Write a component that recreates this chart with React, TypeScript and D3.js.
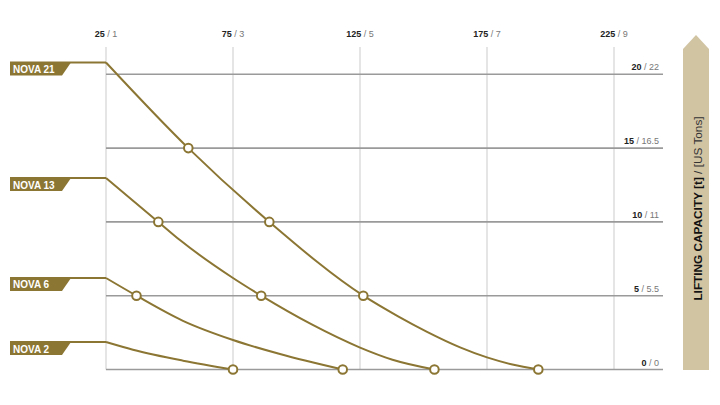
import React from "react";
import * as d3 from "d3";

const xTicks = [25, 75, 125, 175, 225];
const xTickAlt = ["1", "3", "5", "7", "9"];
const yTicks = [0, 5, 10, 15, 20];
const yTickAlt = ["0", "5.5", "11", "16.5", "22"];

const models = ["NOVA 21", "NOVA 13", "NOVA 6", "NOVA 2"];

const nova21X = [25, 57.4, 89.3, 126.3, 140, 151.4, 164.4, 175.0, 185, 195.2];
const nova21Y = [20.8, 15, 10, 5, 3.6, 2.55, 1.5, 0.82, 0.34, 0];
const nova21Marks = [1, 2, 3, 9];

const nova13X = [25, 45.6, 54.1, 75, 86.1, 106, 124.8, 137.8, 154.3];
const nova13Y = [12.97, 10, 8.77, 6.2, 5, 3.05, 1.5, 0.66, 0];
const nova13Marks = [1, 4, 8];

const nova6X = [25, 37.0, 55.3, 75, 93.5, 118.2];
const nova6Y = [6.2, 5, 3.3, 2.0, 1.05, 0];
const nova6Marks = [1, 5];

const nova2X = [25, 35.6, 55.3, 75];
const nova2Y = [1.86, 1.34, 0.6, 0];
const nova2Marks = [3];

const seriesX = [nova21X, nova13X, nova6X, nova2X];
const seriesY = [nova21Y, nova13Y, nova6Y, nova2Y];
const seriesMarks = [nova21Marks, nova13Marks, nova6Marks, nova2Marks];

const axisTitleBold = "LIFTING CAPACITY [t]";
const axisTitleRest = " / [US Tons]";

const GOLD = "#8c7634";
const TAN = "#d1c4a3";
const FONT = "'Liberation Sans', Arial, sans-serif";

export default function App() {
  const x = d3.scaleLinear().domain([25, 225]).range([106, 614]);
  const y = d3.scaleLinear().domain([0, 20]).range([369.5, 74.3]);
  const line = d3
    .line<[number, number]>()
    .x((d) => x(d[0]))
    .y((d) => y(d[1]))
    .curve(d3.curveMonotoneX);

  const tagLeft = 10;
  const tagTopRight = 71;
  const tagBotRight = 62;
  const tagH = 13;
  const hLineEnd = 663;

  return (
    <svg
      width={720}
      height={405}
      style={{ position: "absolute", left: 0, top: 0, background: "#fff" }}
    >
      {xTicks.map((t) => (
        <line
          key={"v" + t}
          x1={x(t)}
          x2={x(t)}
          y1={47}
          y2={y(0)}
          stroke="#dcdcdc"
          strokeWidth={1.5}
        />
      ))}
      {xTicks.map((t, i) => (
        <text
          key={"xt" + t}
          x={x(t)}
          y={37}
          textAnchor="middle"
          fontFamily={FONT}
          fontSize={9}
        >
          <tspan fontWeight="bold" fill="#222">
            {t}
          </tspan>
          <tspan fill="#777">{" / " + xTickAlt[i]}</tspan>
        </text>
      ))}
      {yTicks.map((t) => (
        <line
          key={"h" + t}
          x1={x(25)}
          x2={hLineEnd}
          y1={y(t)}
          y2={y(t)}
          stroke="#9a9a9a"
          strokeWidth={1.6}
        />
      ))}
      {yTicks.map((t, i) => (
        <text
          key={"yt" + t}
          x={659}
          y={y(t) - 4}
          textAnchor="end"
          fontFamily={FONT}
          fontSize={9}
        >
          <tspan fontWeight="bold" fill="#222">
            {t}
          </tspan>
          <tspan fill="#777">{" / " + yTickAlt[i]}</tspan>
        </text>
      ))}
      {models.map((m, si) => {
        const xs = seriesX[si];
        const ys = seriesY[si];
        const pts: [number, number][] = xs.map((v, j) => [v, ys[j]]);
        const y0 = y(ys[0]);
        return (
          <g key={m}>
            <path
              d={`M${tagLeft},${y0 + tagH}L${tagLeft},${y0}L${tagTopRight},${y0}L${tagBotRight},${y0 + tagH}Z`}
              fill={GOLD}
            />
            <text
              x={tagLeft + 3}
              y={y0 + 10.5}
              fill="#fff"
              fontFamily={FONT}
              fontWeight="bold"
              fontSize={10}
            >
              {m}
            </text>
            <line
              x1={tagLeft}
              x2={x(xs[0])}
              y1={y0}
              y2={y0}
              stroke={GOLD}
              strokeWidth={2}
            />
            <path
              d={line(pts) || ""}
              fill="none"
              stroke={GOLD}
              strokeWidth={2}
            />
            {seriesMarks[si].map((j) => (
              <circle
                key={j}
                cx={x(xs[j])}
                cy={y(ys[j])}
                r={4.3}
                fill="#fff"
                stroke={GOLD}
                strokeWidth={2}
              />
            ))}
          </g>
        );
      })}
      <path d="M683,370L683,49L696,35L709,49L709,370Z" fill={TAN} />
      <text
        transform="translate(701.5,208.5) rotate(-90)"
        textAnchor="middle"
        fontFamily={FONT}
        fontSize={11.8}
        fill="#111"
      >
        <tspan fontWeight="bold">{axisTitleBold}</tspan>
        <tspan fill="#333">{axisTitleRest}</tspan>
      </text>
    </svg>
  );
}
